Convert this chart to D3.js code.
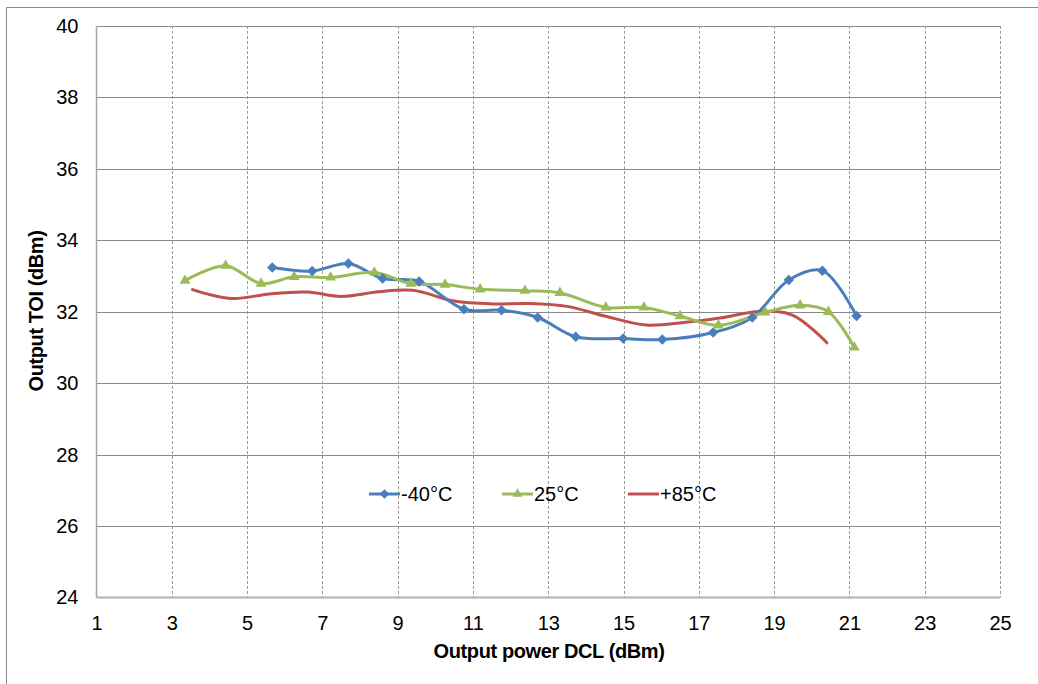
<!DOCTYPE html>
<html><head><meta charset="utf-8">
<script src="https://cdn.jsdelivr.net/npm/d3@7"></script>
<style>body{margin:0;background:#fff}svg{display:block;font-family:"Liberation Sans",Arial,sans-serif}</style>
</head><body>
<svg id="c" width="1038" height="684"></svg>
<script>
const xTicks = [1,3,5,7,9,11,13,15,17,19,21,23,25];
const yTicks = [24,26,28,30,32,34,36,38,40];
const seriesNames = ["-40°C","25°C","+85°C"];
const coldX = [5.67,6.73,7.69,8.6,9.57,10.76,11.76,12.72,13.73,14.99,16.03,17.38,18.42,19.39,20.28,21.19];
const coldY = [33.24,33.14,33.35,32.93,32.85,32.07,32.04,31.84,31.3,31.25,31.22,31.42,31.84,32.89,33.15,31.88];
const roomX = [3.35,4.43,5.37,6.25,7.22,8.38,9.35,10.26,11.19,12.38,13.31,14.53,15.54,16.5,17.52,18.76,19.69,20.44,21.13];
const roomY = [32.87,33.29,32.79,32.98,32.96,33.1,32.79,32.76,32.63,32.59,32.53,32.12,32.12,31.88,31.62,31.98,32.18,32.0,31.0];
const hotX = [3.55,4.6,5.6,6.6,7.5,8.5,9.4,10.5,11.5,12.5,13.5,14.5,15.6,16.6,17.6,18.6,19.5,20.4];
const hotY = [32.62,32.37,32.5,32.55,32.43,32.56,32.6,32.3,32.22,32.23,32.15,31.88,31.63,31.7,31.83,32.01,31.9,31.13];

const colors = ["#4A7EBB","#9BBB59","#C0504D"];
const svg = d3.select("#c");
const L=96.5,R=1000,T=26,B=597.5;
const x = d3.scaleLinear().domain([1,25]).range([L,R]);
const y = d3.scaleLinear().domain([24,40]).range([B,T]);

// outer frame
svg.append("path").attr("d","M6.5,684V7.5H1038").attr("fill","none").attr("stroke","#8c8c8c").attr("stroke-width",1);

// gridlines
svg.append("g").selectAll("line").data(yTicks.filter(d=>d>24)).join("line")
  .attr("x1",L).attr("x2",R).attr("y1",d=>Math.round(y(d))+0.5).attr("y2",d=>Math.round(y(d))+0.5)
  .attr("stroke","#8a8a8a").attr("stroke-width",1);
svg.append("g").selectAll("line").data(xTicks.filter(d=>d>1)).join("line")
  .attr("x1",d=>Math.round(x(d))+0.5).attr("x2",d=>Math.round(x(d))+0.5).attr("y1",T).attr("y2",B)
  .attr("stroke","#9a9a9a").attr("stroke-width",1).attr("stroke-dasharray","3,2");

// axes
svg.append("line").attr("x1",L).attr("x2",L).attr("y1",T).attr("y2",B).attr("stroke","#a6a6a6").attr("stroke-width",1.5);
svg.append("line").attr("x1",L).attr("x2",R).attr("y1",B).attr("y2",B).attr("stroke","#b0b0b0").attr("stroke-width",2);

const yAxis = svg.append("g").attr("transform",`translate(${L},0)`)
  .call(d3.axisLeft(y).tickValues(yTicks).tickSize(0).tickPadding(18));
yAxis.select(".domain").remove();
yAxis.selectAll("text").attr("font-size",20).attr("fill","#000").attr("font-family","Liberation Sans, Arial, sans-serif");

const xAxis = svg.append("g").attr("transform",`translate(0,${B})`)
  .call(d3.axisBottom(x).tickValues(xTicks).tickSize(0).tickPadding(18));
xAxis.select(".domain").remove();
xAxis.selectAll("text").attr("font-size",20).attr("fill","#000").attr("font-family","Liberation Sans, Arial, sans-serif");

// titles
svg.append("text").attr("x",549).attr("y",658).attr("text-anchor","middle")
  .attr("font-size",20).attr("font-weight","bold").attr("letter-spacing","-0.4").text("Output power DCL (dBm)");
svg.append("text").attr("transform","translate(43,311) rotate(-90)").attr("text-anchor","middle")
  .attr("font-size",20).attr("font-weight","bold").attr("letter-spacing","-0.4").text("Output TOI (dBm)");

// series
const series = [
  {xs:coldX,ys:coldY,marker:"diamond"},
  {xs:roomX,ys:roomY,marker:"triangle"},
  {xs:hotX,ys:hotY,marker:null}
];
const line = d3.line().x(d=>x(d[0])).y(d=>y(d[1])).curve(d3.curveCatmullRom.alpha(0.5));
const order=[2,0,1];
order.forEach(i=>{
  const s=series[i];
  const pts=s.xs.map((v,k)=>[v,s.ys[k]]);
  svg.append("path").datum(pts).attr("d",line).attr("fill","none").attr("stroke",colors[i]).attr("stroke-width",3).attr("stroke-linejoin","round").attr("stroke-linecap","round");
});
order.forEach(i=>{
  const s=series[i];
  if(!s.marker) return;
  const pts=s.xs.map((v,k)=>[v,s.ys[k]]);
  const sym = s.marker==="diamond"? d3.symbol().type(d3.symbolDiamond2).size(70) : d3.symbol().type(d3.symbolTriangle2).size(85);
  svg.append("g").selectAll("path").data(pts).join("path")
    .attr("transform",d=>`translate(${x(d[0])},${y(d[1])})`).attr("d",sym).attr("fill",colors[i]);
});

// legend
const legX=[369,502,628];
seriesNames.forEach((n,i)=>{
  const g=svg.append("g").attr("transform",`translate(${legX[i]},494)`);
  g.append("line").attr("x1",0).attr("x2",31).attr("stroke",colors[i]).attr("stroke-width",3);
  if(series[i].marker){
    const sym = series[i].marker==="diamond"? d3.symbol().type(d3.symbolDiamond2).size(60) : d3.symbol().type(d3.symbolTriangle2).size(70);
    g.append("path").attr("transform","translate(15.5,0)").attr("d",sym).attr("fill",colors[i]);
  }
  g.append("text").attr("x",32).attr("y",7).attr("font-size",20).attr("fill","#000").text(n);
});
</script>
</body></html>
